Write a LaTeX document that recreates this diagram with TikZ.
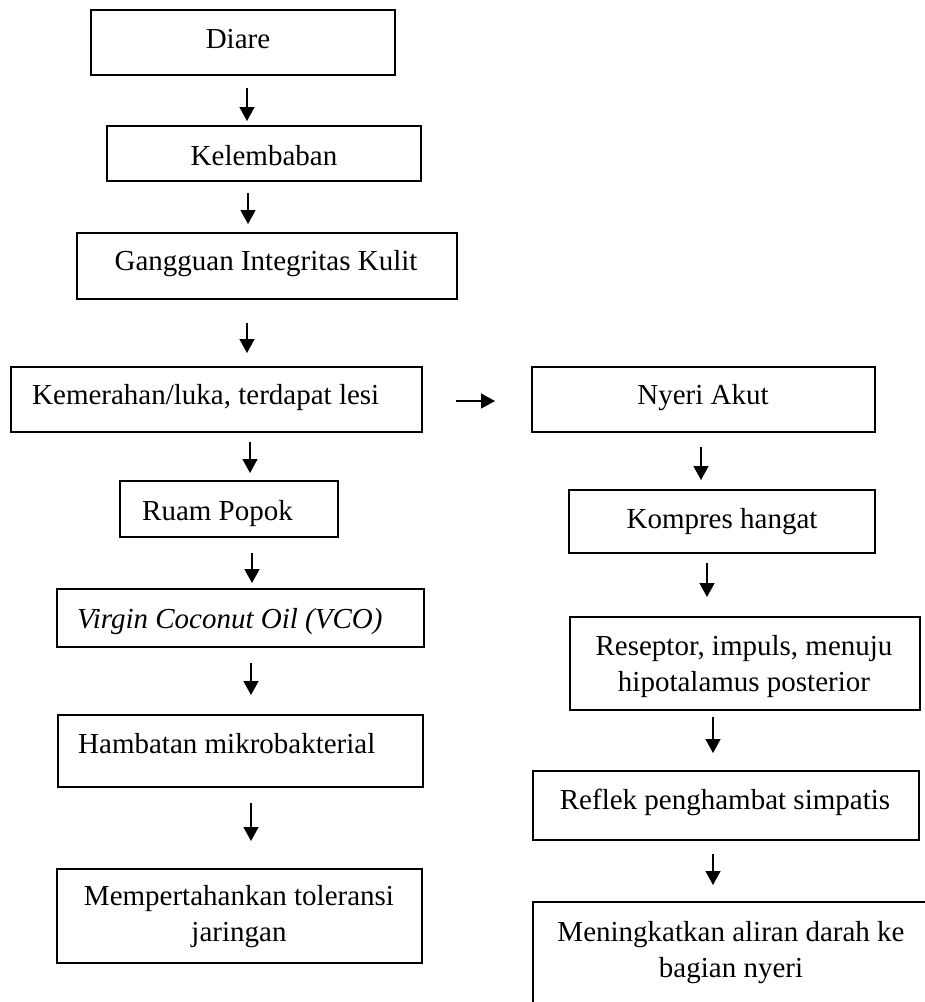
\documentclass[tikz,border=0pt]{standalone}
\usepackage{fontspec}
\setmainfont{Liberation Serif}
\usetikzlibrary{arrows.meta}
\begin{document}
\begin{tikzpicture}[x=1pt,y=-1pt,
  box/.style={draw, line width=1.5pt, anchor=north west, inner sep=0pt, outer sep=0pt},
  txt/.style={font=\fontsize{29}{36}\selectfont, inner sep=0pt, anchor=base},
  txtl/.style={txt, anchor=base west},
  txtm/.style={font=\fontsize{29}{36}\selectfont, inner sep=0pt, anchor=center, align=center},
  arr/.style={line width=1.5pt, -{Triangle[width=15pt,length=14pt]}}]
\fill[white] (0,0) rectangle (925,1002);
\useasboundingbox (0,0) rectangle (925,1002);
\clip (0,0) rectangle (925,1002);

% left column boxes
\node[box, minimum width=304pt, minimum height=65pt] (b1) at (91,10) {};
\node[box, minimum width=314pt, minimum height=55pt] (b2) at (107,126) {};
\node[box, minimum width=380pt, minimum height=66pt] (b3) at (77,233) {};
\node[box, minimum width=411pt, minimum height=65pt] (b4) at (11,367) {};
\node[box, minimum width=218pt, minimum height=56pt] (b5) at (120,481) {};
\node[box, minimum width=367pt, minimum height=58pt] (b6) at (57,589) {};
\node[box, minimum width=365pt, minimum height=72pt] (b7) at (58,715) {};
\node[box, minimum width=365pt, minimum height=94pt] (b8) at (57,869) {};
% right column boxes
\node[box, minimum width=343pt, minimum height=65pt] (b9) at (532,367) {};
\node[box, minimum width=306pt, minimum height=63pt] (b10) at (569,490) {};
\node[box, minimum width=350pt, minimum height=93pt] (b11) at (570,617) {};
\node[box, minimum width=386pt, minimum height=69pt] (b12) at (533,771) {};
\node[box, minimum width=420pt, minimum height=130pt] (b13) at (533,902) {};

% texts
\node[txt] (t1) at (238,48) {Diare};
\node[txt] (t2) at (264,165) {Kelembaban};
\node[txt] (t3) at (266,270) {Gangguan Integritas Kulit};
\node[txtl] (t4) at (32,404) {Kemerahan/luka, terdapat lesi};
\node[txtl] (t5) at (142,520) {Ruam Popok};
\node[txtl] (t6) at (77,628) {\textit{Virgin Coconut Oil (VCO)}};
\node[txtl] (t7) at (78,753) {Hambatan mikrobakterial};
\node[txtm] (t8) at (239,917) {Mempertahankan toleransi\\jaringan};
\node[txt] (t9) at (703,404) {Nyeri Akut};
\node[txt] (t10) at (722,528) {Kompres hangat};
\node[txtm] (t11) at (744,667) {Reseptor, impuls, menuju\\hipotalamus posterior};
\node[txt] (t12) at (725,809) {Reflek penghambat simpatis};
\node[txtm] (t13) at (731,953) {Meningkatkan aliran darah ke\\bagian nyeri};

% arrow end points
\coordinate (a1s) at (247,88);  \coordinate (a1e) at (247,121);
\coordinate (a2s) at (248,193); \coordinate (a2e) at (248,224);
\coordinate (a3s) at (247,323); \coordinate (a3e) at (247,353);
\coordinate (a4s) at (250,442); \coordinate (a4e) at (250,473);
\coordinate (a5s) at (252,553); \coordinate (a5e) at (252,583);
\coordinate (a6s) at (251,663); \coordinate (a6e) at (251,695);
\coordinate (a7s) at (251,803); \coordinate (a7e) at (251,841);
\coordinate (ars) at (456,401); \coordinate (are) at (495,401);
\coordinate (r1s) at (701,447); \coordinate (r1e) at (701,480);
\coordinate (r2s) at (707,563); \coordinate (r2e) at (707,597);
\coordinate (r3s) at (713,717); \coordinate (r3e) at (713,753);
\coordinate (r4s) at (713,854); \coordinate (r4e) at (713,885);

\draw[arr] (a1s) -- (a1e);
\draw[arr] (a2s) -- (a2e);
\draw[arr] (a3s) -- (a3e);
\draw[arr] (a4s) -- (a4e);
\draw[arr] (a5s) -- (a5e);
\draw[arr] (a6s) -- (a6e);
\draw[arr] (a7s) -- (a7e);
\draw[arr] (ars) -- (are);
\draw[arr] (r1s) -- (r1e);
\draw[arr] (r2s) -- (r2e);
\draw[arr] (r3s) -- (r3e);
\draw[arr] (r4s) -- (r4e);
\end{tikzpicture}
\end{document}
